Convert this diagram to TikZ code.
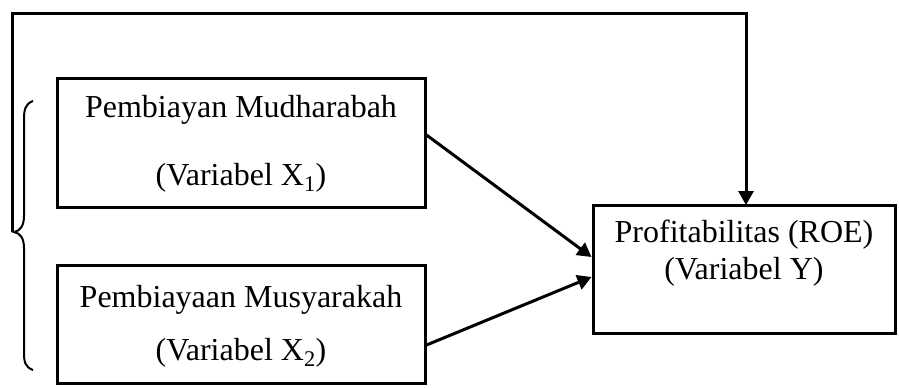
\documentclass[tikz,border=0pt]{standalone}
\usepackage{fontspec}
\setmainfont{Liberation Serif}
\usetikzlibrary{arrows.meta}
\begin{document}
\begin{tikzpicture}[x=1pt,y=-1pt,
  box/.style={draw,line width=3pt,rectangle,inner sep=0pt},
  lbl/.style={inner sep=0pt,font=\fontsize{32}{38}\selectfont,anchor=center},
  conn/.style={line width=3pt,-{Triangle[length=14pt,width=15pt]}}]
\useasboundingbox (0,0) rectangle (899,388);
\node[box,minimum width=368pt,minimum height=129pt] (x1) at (241,142.5) {};
\node[box,minimum width=368pt,minimum height=118pt] (x2) at (241,324) {};
\node[box,minimum width=302pt,minimum height=128pt] (y) at (744,269) {};
\node[lbl] (t1a) at (241,110) {Pembiayan Mudharabah};
\node[lbl] (t1b) at (241,178) {(Variabel X\textsubscript{1})};
\node[lbl] (t2a) at (241,300) {Pembiayaan Musyarakah};
\node[lbl] (t2b) at (241,353) {(Variabel X\textsubscript{2})};
\node[lbl] (t3a) at (744,235) {Profitabilitas (ROE)};
\node[lbl] (t3b) at (744,272) {(Variabel Y)};
\coordinate (x1out) at (x1.east |- 0,135);
\coordinate (x2out) at (x2.east |- 0,345);
\coordinate (yin1) at (y.west |- 0,257);
\coordinate (yin2) at (y.west |- 0,277);
\coordinate (start) at (12,232);
\coordinate (ytop) at (746,205);
\draw[conn] (x1out) -- (yin1);
\draw[conn] (x2out) -- (yin2);
\draw[conn] (start) -- (12,13) -- (746,13) -- (ytop);
\draw[line width=2pt] (33,101) .. controls (25,104) and (24,110) .. (24,120)
  -- (24,216) .. controls (24,226) and (20,231) .. (14,232)
  .. controls (20,233) and (24,238) .. (24,248)
  -- (24,352) .. controls (24,362) and (25,367) .. (33,370);
\end{tikzpicture}
\end{document}
